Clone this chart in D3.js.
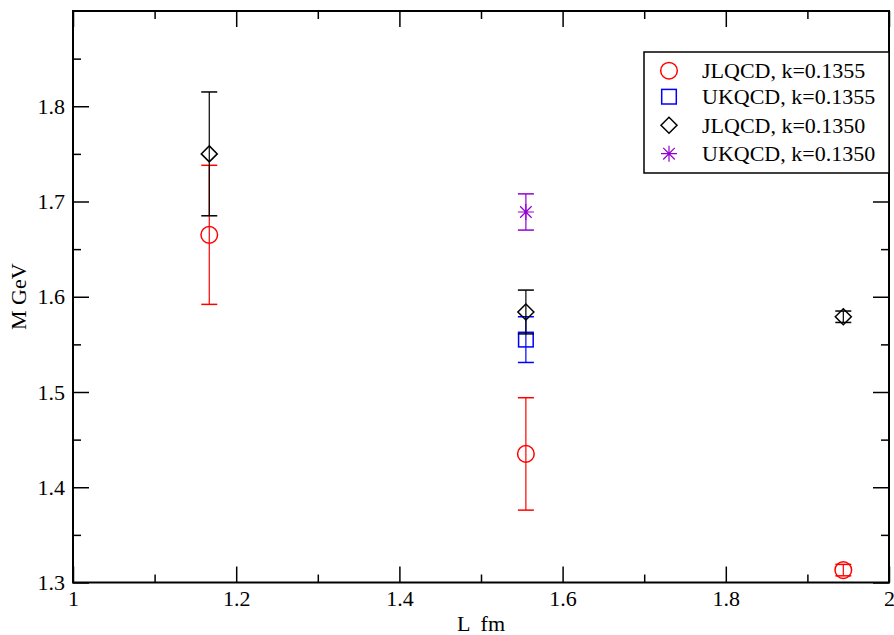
<!DOCTYPE html>
<html>
<head>
<meta charset="utf-8">
<script src="https://cdn.jsdelivr.net/npm/d3@7"></script>
<style>
  body { margin: 0; background: #fff; }
  text { font-family: "Liberation Serif", "Times New Roman", serif; }
</style>
</head>
<body>
<div id="chart"></div>
<script>
// lattice box size L (fm) and mass M (GeV)
const jlqcd1355L = [1.167, 1.555, 1.944];
const jlqcd1355M = [1.665, 1.435, 1.313];
const jlqcd1355E = [0.073, 0.059, 0.006];

const ukqcd1355L = [1.555];
const ukqcd1355M = [1.555];
const ukqcd1355E = [0.024];

const jlqcd1350L = [1.167, 1.555, 1.944];
const jlqcd1350M = [1.750, 1.584, 1.579];
const jlqcd1350E = [0.065, 0.023, 0.006];

const ukqcd1350L = [1.555];
const ukqcd1350M = [1.689];
const ukqcd1350E = [0.019];

const xMajor = [1, 1.2, 1.4, 1.6, 1.8, 2];
const xMinor = [1.1, 1.3, 1.5, 1.7, 1.9];
const yMajor = [1.3, 1.4, 1.5, 1.6, 1.7, 1.8];
const yMinor = [1.35, 1.45, 1.55, 1.65, 1.75, 1.85];

const series = [
  { name: 'JLQCD, k=0.1355', L: jlqcd1355L, M: jlqcd1355M, E: jlqcd1355E, color: '#ff0000', symbol: 'circle' },
  { name: 'UKQCD, k=0.1355', L: ukqcd1355L, M: ukqcd1355M, E: ukqcd1355E, color: '#0000ff', symbol: 'square' },
  { name: 'JLQCD, k=0.1350', L: jlqcd1350L, M: jlqcd1350M, E: jlqcd1350E, color: '#000000', symbol: 'diamond' },
  { name: 'UKQCD, k=0.1350', L: ukqcd1350L, M: ukqcd1350M, E: ukqcd1350E, color: '#9400d3', symbol: 'star' }
];

const width = 894, height = 635;
const margin = { top: 11, right: 5, bottom: 52.5, left: 73 };
const fontSize = 22;

const svg = d3.select('#chart').append('svg')
  .attr('width', width)
  .attr('height', height);

const x = d3.scaleLinear().domain([1, 2]).range([margin.left, width - margin.right]);
const y = d3.scaleLinear().domain([1.3, 1.9]).range([height - margin.bottom, margin.top]);

const x0 = x.range()[0], x1 = x.range()[1];
const y0 = y.range()[0], y1 = y.range()[1];

// axes, ticks pointing inward on all four sides
function drawAxis(axis, transform, labels) {
  const g = svg.append('g').attr('transform', transform).call(axis);
  g.select('.domain').remove();
  g.selectAll('.tick line').attr('stroke', '#000').attr('stroke-width', 1.5);
  if (!labels) g.selectAll('.tick text').remove();
  else g.selectAll('.tick text').attr('fill', '#000').style('font-size', fontSize + 'px')
    .style('font-family', '"Liberation Serif", serif');
  return g;
}

const fmt = d => d3.format('')(+d.toFixed(1));

drawAxis(d3.axisBottom(x).tickValues(xMajor).tickSize(-16).tickPadding(8).tickFormat(fmt), `translate(0,${y0})`, true);
drawAxis(d3.axisBottom(x).tickValues(xMinor).tickSize(-8), `translate(0,${y0})`, false);
drawAxis(d3.axisTop(x).tickValues(xMajor).tickSize(-16), `translate(0,${y1})`, false);
drawAxis(d3.axisTop(x).tickValues(xMinor).tickSize(-8), `translate(0,${y1})`, false);
drawAxis(d3.axisLeft(y).tickValues(yMajor).tickSize(-16).tickPadding(8).tickFormat(fmt), `translate(${x0},0)`, true);
drawAxis(d3.axisLeft(y).tickValues(yMinor).tickSize(-8), `translate(${x0},0)`, false);
drawAxis(d3.axisRight(y).tickValues(yMajor).tickSize(-16), `translate(${x1},0)`, false);
drawAxis(d3.axisRight(y).tickValues(yMinor).tickSize(-8), `translate(${x1},0)`, false);

svg.append('rect')
  .attr('x', x0).attr('y', y1)
  .attr('width', x1 - x0).attr('height', y0 - y1)
  .attr('fill', 'none').attr('stroke', '#000').attr('stroke-width', 2);

// axis titles
svg.append('text')
  .attr('x', (x0 + x1) / 2).attr('y', 631)
  .attr('text-anchor', 'middle')
  .style('font-size', fontSize + 'px')
  .style('white-space', 'pre')
  .text('L  fm');

svg.append('text')
  .attr('transform', `translate(26,${(y0 + y1) / 2}) rotate(-90)`)
  .attr('text-anchor', 'middle')
  .style('font-size', fontSize + 'px')
  .text('M GeV');

// symbol drawing
function drawSymbol(g, type, cx, cy, color) {
  if (type === 'circle') {
    g.append('circle').attr('cx', cx).attr('cy', cy).attr('r', 8.3)
      .attr('fill', 'none').attr('stroke', color).attr('stroke-width', 1.5);
  } else if (type === 'square') {
    g.append('rect').attr('x', cx - 7.3).attr('y', cy - 7.3).attr('width', 14.6).attr('height', 14.6)
      .attr('fill', 'none').attr('stroke', color).attr('stroke-width', 1.5);
  } else if (type === 'diamond') {
    const r = 8;
    g.append('path').attr('d', `M${cx},${cy - r}L${cx + r},${cy}L${cx},${cy + r}L${cx - r},${cy}Z`)
      .attr('fill', 'none').attr('stroke', color).attr('stroke-width', 1.5);
  } else if (type === 'star') {
    const r = 8, d = r * 0.72;
    g.append('path')
      .attr('d', `M${cx - r},${cy}H${cx + r}M${cx},${cy - r}V${cy + r}` +
        `M${cx - d},${cy - d}L${cx + d},${cy + d}M${cx - d},${cy + d}L${cx + d},${cy - d}`)
      .attr('fill', 'none').attr('stroke', color).attr('stroke-width', 1.2);
  }
}

// error bars then markers, series by series
const capHalf = 8;
series.forEach(s => {
  const g = svg.append('g');
  s.L.forEach((L, i) => {
    const cx = x(L);
    const top = y(s.M[i] + s.E[i]), bot = y(s.M[i] - s.E[i]);
    g.append('line').attr('x1', cx).attr('x2', cx).attr('y1', top).attr('y2', bot)
      .attr('stroke', s.color).attr('stroke-width', 1.2);
    [top, bot].forEach(yy => {
      g.append('line').attr('x1', cx - capHalf).attr('x2', cx + capHalf).attr('y1', yy).attr('y2', yy)
        .attr('stroke', s.color).attr('stroke-width', 1.5);
    });
    drawSymbol(g, s.symbol, cx, y(s.M[i]), s.color);
  });
});

// legend
const legend = svg.append('g');
legend.append('rect')
  .attr('x', 644).attr('y', 52).attr('width', x1 - 644).attr('height', 121)
  .attr('fill', '#fff').attr('stroke', '#000').attr('stroke-width', 1.5);
const rowY = [70.7, 96.7, 125.3, 153.7];
series.forEach((s, i) => {
  drawSymbol(legend, s.symbol, 669, rowY[i], s.color);
  legend.append('text')
    .attr('x', 702).attr('y', rowY[i])
    .attr('dy', '0.35em')
    .style('font-size', fontSize + 'px')
    .text(s.name);
});
</script>
</body>
</html>
